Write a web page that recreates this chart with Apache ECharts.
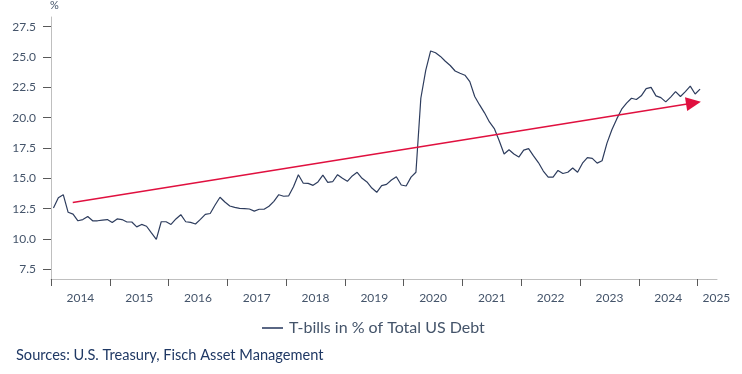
<!DOCTYPE html>
<html>
<head>
<meta charset="utf-8">
<script src="https://cdn.jsdelivr.net/npm/echarts@6/dist/echarts.min.js"></script>
<style>
html,body{margin:0;padding:0;background:#fff;}
#chart{width:742px;height:374px;}
</style>
</head>
<body>
<div id="chart"></div>
<script>
// Monthly data, starting January 2014
const startYear = 2014;
const seriesName = 'T-bills in % of Total US Debt';
const tbillShare = [
  12.55, 13.4, 13.65, 12.2, 12.05, 11.5, 11.6, 11.85, 11.5, 11.5, 11.55, 11.6,
  11.35, 11.65, 11.6, 11.4, 11.4, 11.0, 11.2, 11.05, 10.5, 9.97, 11.42, 11.42,
  11.2, 11.65, 12.0, 11.42, 11.37, 11.23, 11.62, 12.03, 12.1, 12.8, 13.44, 13.05,
  12.72, 12.6, 12.53, 12.5, 12.47, 12.3, 12.45, 12.45, 12.7, 13.1, 13.65, 13.52,
  13.55, 14.3, 15.3, 14.6, 14.58, 14.42, 14.7, 15.27, 14.67, 14.72, 15.3, 15.0,
  14.75, 15.2, 15.5, 15.0, 14.7, 14.2, 13.85, 14.4, 14.5, 14.86, 15.13, 14.45,
  14.37, 15.1, 15.5, 21.6, 23.9, 25.5, 25.35, 25.05, 24.65, 24.3, 23.85, 23.66,
  23.5, 22.97, 21.75, 21.05, 20.4, 19.65, 19.1, 18.1, 17.0, 17.35, 17.0, 16.75,
  17.33, 17.45, 16.85, 16.3, 15.6, 15.1, 15.1, 15.65, 15.4, 15.5, 15.85, 15.5,
  16.25, 16.7, 16.65, 16.25, 16.45, 17.9, 19.0, 19.9, 20.7, 21.2, 21.6, 21.5,
  21.8, 22.4, 22.5, 21.8, 21.65, 21.3, 21.7, 22.15, 21.75, 22.15, 22.6, 21.95,
  22.35
];
// Trend arrow (year, value)
const trendStart = [2014.37, 13.0];
const trendEnd = [2024.93, 21.21];
// Axis ticks and labels
const yearTicks = [2014, 2015, 2016, 2017, 2018, 2019, 2020, 2021, 2022, 2023, 2024, 2025];
const yearLabelPos = [2014.5, 2015.5, 2016.5, 2017.5, 2018.5, 2019.5, 2020.5, 2021.5, 2022.5, 2023.5, 2024.5, 2025.32];
const yTicks = [7.5, 10, 12.5, 15, 17.5, 20, 22.5, 25, 27.5];
const sourceText = 'Sources: U.S. Treasury, Fisch Asset Management';

const points = tbillShare.map((v, i) => [startYear + (i + 0.5) / 12, v]);

const FONT = 'Lato';
const labelColor = '#44546A';

const chart = echarts.init(document.getElementById('chart'), null, {renderer: 'canvas'});
chart.setOption({
  animation: false,
  textStyle: {fontFamily: FONT},
  grid: {left: 51, right: 25, top: 17, bottom: 95, containLabel: false},
  xAxis: {
    type: 'value', min: 2014, max: 2025.33,
    splitLine: {show: false},
    axisLine: {show: true, lineStyle: {color: '#BFBFBF', width: 1}},
    axisTick: {show: true, customValues: yearTicks, length: 7, lineStyle: {color: '#595959', width: 1}},
    axisLabel: {
      customValues: yearLabelPos, margin: 13, color: labelColor, fontSize: 12, fontFamily: FONT,
      formatter: v => String(Math.floor(v))
    }
  },
  yAxis: {
    type: 'value', min: 6.7, max: 28.3,
    name: '%', nameLocation: 'end', nameGap: 6,
    nameTextStyle: {color: labelColor, fontSize: 11, fontFamily: FONT, align: 'left', padding: [0, 0, 0, -1]},
    splitLine: {show: false},
    axisLine: {show: true, lineStyle: {color: '#BFBFBF', width: 1}},
    axisTick: {show: true, customValues: yTicks, length: 8, lineStyle: {color: '#595959', width: 1}},
    axisLabel: {
      customValues: yTicks, margin: 15, color: labelColor, fontSize: 12, fontFamily: FONT,
      formatter: v => v.toFixed(1)
    }
  },
  legend: {
    data: [seriesName],
    left: 257, top: 315,
    icon: 'rect',
    itemWidth: 21, itemHeight: 2, itemGap: 10,
    itemStyle: {color: '#5A6784'},
    textStyle: {color: labelColor, fontSize: 16, fontFamily: FONT, padding: [0, 0, 0, 1]}
  },
  graphic: [{
    type: 'text', left: 16, top: 348,
    style: {text: sourceText, fill: '#1F3864', fontSize: 14.6, fontFamily: FONT}
  }],
  series: [{
    name: seriesName,
    type: 'line',
    data: points,
    symbol: 'none',
    lineStyle: {color: '#2E3D5E', width: 1.2},
    itemStyle: {color: '#2E3D5E'},
    markLine: {
      silent: true,
      symbol: ['none', 'triangle'],
      symbolSize: [14, 15],
      label: {show: false},
      lineStyle: {color: '#E0103F', width: 1.5, type: 'solid'},
      data: [[{coord: trendStart}, {coord: trendEnd}]]
    }
  }]
});
</script>
</body>
</html>
